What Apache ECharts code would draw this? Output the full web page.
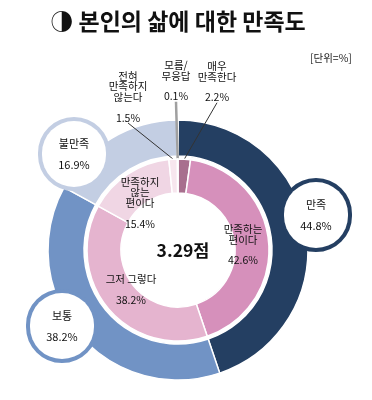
<!DOCTYPE html>
<html>
<head>
<meta charset="utf-8">
<script src="https://cdn.jsdelivr.net/npm/echarts@6/dist/echarts.min.js"></script>
<style>
html,body{margin:0;padding:0;background:#fff;}
#chart{width:372px;height:400px;}
</style>
</head>
<body>
<div id="chart"></div>
<script>
// ---- data ----
var titleText = '◑ 본인의 삶에 대한 만족도';
var unitText = '[단위=%]';
var scoreText = '3.29점';

var outerNames = ['만족', '보통', '불만족', '모름/무응답'];
var outerValues = [44.8, 38.2, 16.9, 0.1];

var innerNames = ['매우\n만족한다', '만족하는\n편이다', '그저 그렇다', '만족하지\n않는\n편이다', '전혀\n만족하지\n않는다', '모름/\n무응답'];
var innerValues = [2.2, 42.6, 38.2, 15.4, 1.5, 0.1];

// ---- styles / layout ----
var FONT = '"Noto Sans CJK KR", "DejaVu Sans", sans-serif';
var outerColors = ['#243f62', '#7193c5', '#c3cee3', '#a6a6a6'];
var innerColors = ['#a86f8e', '#d690bb', '#e5b4cf', '#f0d6e4', '#f7e6ee', '#a6a6a6'];
var outerLabelPos = [[316, 215], [62, 326], [74, 154], null];
var innerLabelPos = [[217, 87], [243, 250], [131, 295], [140, 208], [128, 102], [176, 86]];
var innerLineShow = [true, false, false, false, true, true];
var innerLineColor = ['#333', '#333', '#333', '#333', '#333', '#a0a0a0'];
var innerLineWidth = [1, 1, 1, 1, 1, 2.5];

var outerData = outerNames.map(function (n, i) {
  var item = { name: n, value: outerValues[i], itemStyle: { color: outerColors[i] } };
  if (i < 3) {
    item.label = {
      show: true,
      formatter: '{b}\n{c}%',
      backgroundColor: '#fff',
      borderColor: outerColors[i],
      borderWidth: 4,
      borderRadius: 40,
      width: 64,
      padding: [12, 0, 12, 0],
      lineHeight: 21,
      fontSize: 11,
      color: '#111',
      fontFamily: FONT,
      align: 'center'
    };
  } else {
    item.label = { show: false };
  }
  return item;
});

var innerData = innerNames.map(function (n, i) {
  return {
    name: n,
    value: innerValues[i],
    itemStyle: { color: innerColors[i] },
    labelLine: { show: innerLineShow[i], length2: 0, lineStyle: { color: innerLineColor[i], width: innerLineWidth[i] } }
  };
});

var chart = echarts.init(document.getElementById('chart'), null, { renderer: 'canvas' });
chart.setOption({
  animation: false,
  backgroundColor: '#fff',
  title: [
    { text: titleText, left: 173, top: 5, textAlign: 'center',
      textStyle: { fontSize: 23, fontWeight: 'bold', color: '#111', fontFamily: FONT } },
    { text: unitText, left: 305, top: 48,
      textStyle: { fontSize: 10.5, fontWeight: 'normal', color: '#222', fontFamily: FONT } },
    { text: scoreText, left: 178, top: 237, textAlign: 'center',
      textStyle: { fontSize: 17.5, fontWeight: 'bold', color: '#111', fontFamily: FONT } }
  ],
  series: [
    {
      type: 'pie',
      name: 'outer',
      z: 2,
      center: [178, 250],
      radius: [94, 130],
      startAngle: 90,
      clockwise: true,
      avoidLabelOverlap: false,
      itemStyle: { borderColor: '#fff', borderWidth: 1.5 },
      label: { position: 'outside' },
      labelLine: { show: false },
      labelLayout: function (p) {
        var pos = outerLabelPos[p.dataIndex];
        if (!pos) return {};
        return { x: pos[0], y: pos[1], align: 'center', verticalAlign: 'middle' };
      },
      data: outerData
    },
    {
      type: 'pie',
      name: 'inner',
      z: 4,
      center: [178, 250],
      radius: [57, 91],
      startAngle: 90,
      clockwise: true,
      avoidLabelOverlap: false,
      itemStyle: { borderColor: '#fff', borderWidth: 1.5 },
      label: {
        show: true,
        position: 'outside',
        formatter: function (p) { return '{n|' + p.name.split('\n').join('}\n{n|') + '}\n{p|' + p.value + '%}'; },
        rich: {
          n: { fontSize: 10.5, lineHeight: 10.5, color: '#111', fontFamily: FONT, align: 'center' },
          p: { fontSize: 10.5, lineHeight: 31, color: '#111', fontFamily: FONT, align: 'center' }
        }
      },
      labelLine: { length2: 0 },
      labelLayout: function (p) {
        var pos = innerLabelPos[p.dataIndex];
        return { x: pos[0], y: pos[1], align: 'center', verticalAlign: 'middle' };
      },
      data: innerData
    }
  ]
});
</script>
</body>
</html>
